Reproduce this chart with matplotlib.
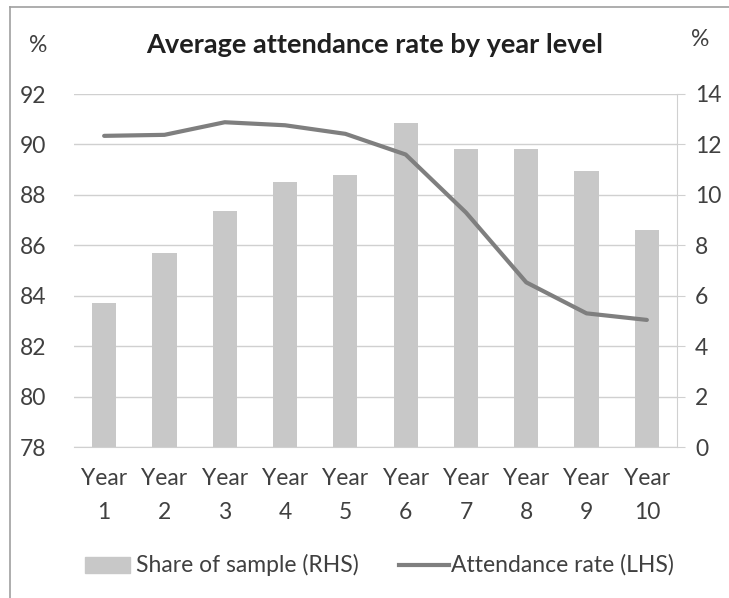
import matplotlib
matplotlib.use('Agg')
import matplotlib.pyplot as plt
from matplotlib.lines import Line2D
import numpy as np

plt.rcParams['font.family'] = ['Lato', 'DejaVu Sans']

years = ['Year\n1', 'Year\n2', 'Year\n3', 'Year\n4', 'Year\n5',
         'Year\n6', 'Year\n7', 'Year\n8', 'Year\n9', 'Year\n10']
share = [5.7, 7.7, 9.35, 10.5, 10.8, 12.85, 11.83, 11.8, 10.93, 8.6]
attendance = [90.34, 90.38, 90.88, 90.76, 90.42, 89.6, 87.3, 84.53, 83.3, 83.04]

txt = '#404040'
grid = '#d0d0d0'
bar_col = '#c8c8c8'
line_col = '#7f7f7f'
fs = 16.5

fig = plt.figure(figsize=(7.29, 5.98), dpi=100)
W, H = 729, 598
ax = fig.add_axes([74 / W, (H - 447) / H, (677 - 74) / W, (447 - 94) / H])
ax2 = ax.twinx()

x = np.arange(len(years))

# bars on the right-hand axis, line on the left
ax2.bar(x, share, width=0.4, color=bar_col, zorder=2)
ax2.set_ylim(0, 14)
ax2.set_yticks(range(0, 15, 2))

ax.set_ylim(78, 92)
ax.set_yticks(range(78, 93, 2))
ax.set_xlim(-0.5, len(years) - 0.5)
ax.set_xticks(x)
ax.set_xticklabels(years, linespacing=1.75)

ax.set_zorder(ax2.get_zorder() + 1)
ax.patch.set_visible(False)
ax.plot(x, attendance, color=line_col, lw=3, solid_capstyle='round', zorder=3)

for y in range(78, 93, 2):
    ax2.axhline(y - 78, color=grid, lw=1, zorder=1)

for a in (ax, ax2):
    for s in a.spines.values():
        s.set_visible(False)
ax2.spines['right'].set_visible(True)
ax2.spines['right'].set_color(grid)
ax2.spines['bottom'].set_visible(True)
ax2.spines['bottom'].set_color(grid)

ax.tick_params(axis='y', length=0, labelsize=fs, labelcolor=txt, pad=20)
ax.tick_params(axis='x', length=0, labelsize=fs, labelcolor=txt, pad=15)
ax2.tick_params(axis='y', length=6, color=grid, labelsize=fs, labelcolor=txt, pad=7)

fig.text(375 / W, 1 - 45 / H, 'Average attendance rate by year level',
         ha='center', va='center', fontsize=19.5, fontweight='bold', color='#202020')
fig.text(38 / W, 1 - 45 / H, '%', ha='center', va='center', fontsize=fs, color=txt)
fig.text(700 / W, 1 - 40 / H, '%', ha='center', va='center', fontsize=fs, color=txt)

# legend drawn by hand
ly = 1 - 565 / H
fig.patches.append(plt.Rectangle((85 / W, ly - 8 / H), 45 / W, 16 / H,
                                 transform=fig.transFigure, color=bar_col))
fig.text(136 / W, ly, 'Share of sample (RHS)', ha='left', va='center',
         fontsize=fs, color=txt)
fig.add_artist(Line2D([399 / W, 449 / W], [ly, ly], color=line_col, lw=3))
fig.text(451 / W, ly, 'Attendance rate (LHS)', ha='left', va='center',
         fontsize=fs, color=txt)

# chart border (top and left edges)
fig.add_artist(Line2D([10 / W, 10 / W], [0, 1 - 7 / H], color='#a0a0a0', lw=1.2))
fig.add_artist(Line2D([10 / W, 1], [1 - 7 / H, 1 - 7 / H], color='#a0a0a0', lw=1.2))

fig.savefig('out.png', dpi=100)
